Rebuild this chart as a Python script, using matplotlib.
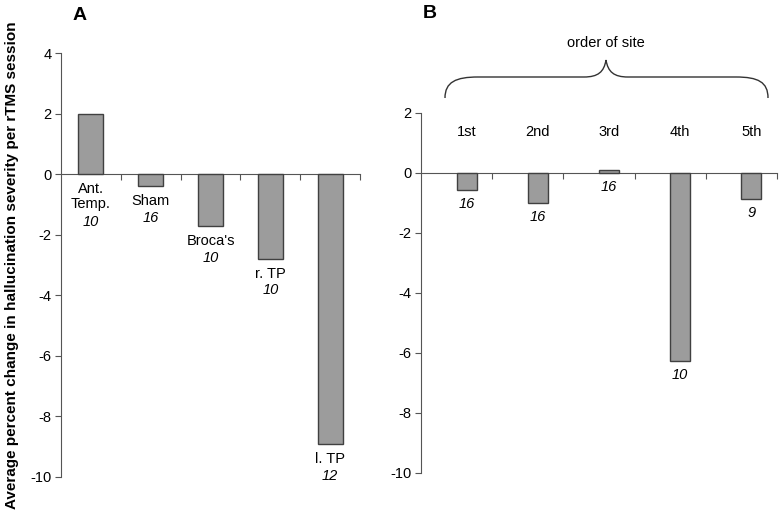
import matplotlib.pyplot as plt
from matplotlib.path import Path
from matplotlib.patches import PathPatch

plt.rcParams['font.family'] = ['Liberation Sans', 'DejaVu Sans']
plt.rcParams['axes.unicode_minus'] = False


# ************************************************************
# Data
# ************************************************************

sites = ["Ant.\nTemp.", "Sham", "Broca's", "r. TP", "l. TP"]
site_change = [2.0, -0.4, -1.72, -2.8, -8.93]
site_n = ["10", "16", "10", "10", "12"]

orders = ["1st", "2nd", "3rd", "4th", "5th"]
order_change = [-0.57, -0.99, 0.11, -6.28, -0.88]
order_n = ["16", "16", "16", "10", "9"]

bar_color = "#9c9c9c"
edge_color = "#404040"
axis_color = "#555555"
fs = 10.5


# ************************************************************
# Figure
# ************************************************************

fig = plt.figure(figsize=(7.8, 5.19), dpi=100)

W, H = 780, 519


def px_axes(left, top, right, bottom):
    return fig.add_axes([
        left / W,
        1 - bottom / H,
        (right - left) / W,
        (bottom - top) / H
    ])


def style_axes(ax, ymin, ymax, step):
    for side in ["top", "right"]:
        ax.spines[side].set_visible(False)
    ax.spines["bottom"].set_position(("data", 0))
    ax.spines["left"].set_color(axis_color)
    ax.spines["bottom"].set_color(axis_color)
    ax.set_xlim(0, 5)
    ax.set_ylim(ymin, ymax)
    ax.set_yticks(range(ymin, ymax + 1, step))
    ax.set_xticks(range(1, 6))
    ax.set_xticklabels([])
    ax.tick_params(axis="y", direction="out", length=4, color=axis_color,
                   labelsize=fs, pad=3)
    ax.tick_params(axis="x", direction="out", length=4, color=axis_color)


# ************************************************************
# Panel A
# ************************************************************

axA = px_axes(61, 53, 360, 476.5)
style_axes(axA, -10, 4, 2)

xA = [i + 0.5 for i in range(len(sites))]

axA.bar(
    xA,
    site_change,
    width=0.42,
    color=bar_color,
    edgecolor=edge_color,
    linewidth=1.0,
    zorder=3
)

for x, v, name, n in zip(xA, site_change, sites, site_n):
    anchor = min(v, 0)
    nlines = name.count("\n") + 1
    axA.annotate(name, (x, anchor), xytext=(0, -6),
                 textcoords="offset points", ha="center", va="top",
                 fontsize=fs, linespacing=1.05)
    axA.annotate(n, (x, anchor), xytext=(0, -6 - 11.8 * nlines),
                 textcoords="offset points", ha="center", va="top",
                 fontsize=fs, style="italic")

axA.set_ylabel(
    "Average percent change in hallucination severity per rTMS session",
    fontsize=11,
    fontweight="bold"
)
axA.yaxis.set_label_coords(-0.14, 0.5)

fig.text(80 / W, 1 - 16 / H, "A", fontsize=14, fontweight="bold",
         ha="center", va="center")


# ************************************************************
# Panel B
# ************************************************************

axB = px_axes(421, 113, 777, 473)
style_axes(axB, -10, 2, 2)

xB = [i + 0.64 for i in range(len(orders))]

axB.bar(
    xB,
    order_change,
    width=0.28,
    color=bar_color,
    edgecolor=edge_color,
    linewidth=1.0,
    zorder=3
)

for x, v, name, n in zip(xB, order_change, orders, order_n):
    anchor = min(v, 0)
    axB.text(x, 1.37, name, ha="center", va="center", fontsize=fs)
    axB.annotate(n, (x, anchor), xytext=(0, -5),
                 textcoords="offset points", ha="center", va="top",
                 fontsize=fs, style="italic")

fig.text(430 / W, 1 - 14 / H, "B", fontsize=14, fontweight="bold",
         ha="center", va="center")

fig.text(606 / W, 1 - 43 / H, "order of site", fontsize=fs,
         ha="center", va="center")

# brace above the order labels
brace = [
    (445, 98), (445, 82), (456, 77), (478, 77),
    (584, 77),
    (598, 77), (604, 72), (606, 60),
    (608, 72), (614, 77), (628, 77),
    (736, 77),
    (758, 77), (768, 82), (768, 98),
]
codes = [
    Path.MOVETO, Path.CURVE4, Path.CURVE4, Path.CURVE4,
    Path.LINETO,
    Path.CURVE4, Path.CURVE4, Path.CURVE4,
    Path.CURVE4, Path.CURVE4, Path.CURVE4,
    Path.LINETO,
    Path.CURVE4, Path.CURVE4, Path.CURVE4,
]
verts = [(x / W, 1 - y / H) for x, y in brace]
fig.patches.append(PathPatch(Path(verts, codes), transform=fig.transFigure,
                             fill=False, edgecolor="#333333", linewidth=1.0))

fig.savefig("out.png", dpi=100)
